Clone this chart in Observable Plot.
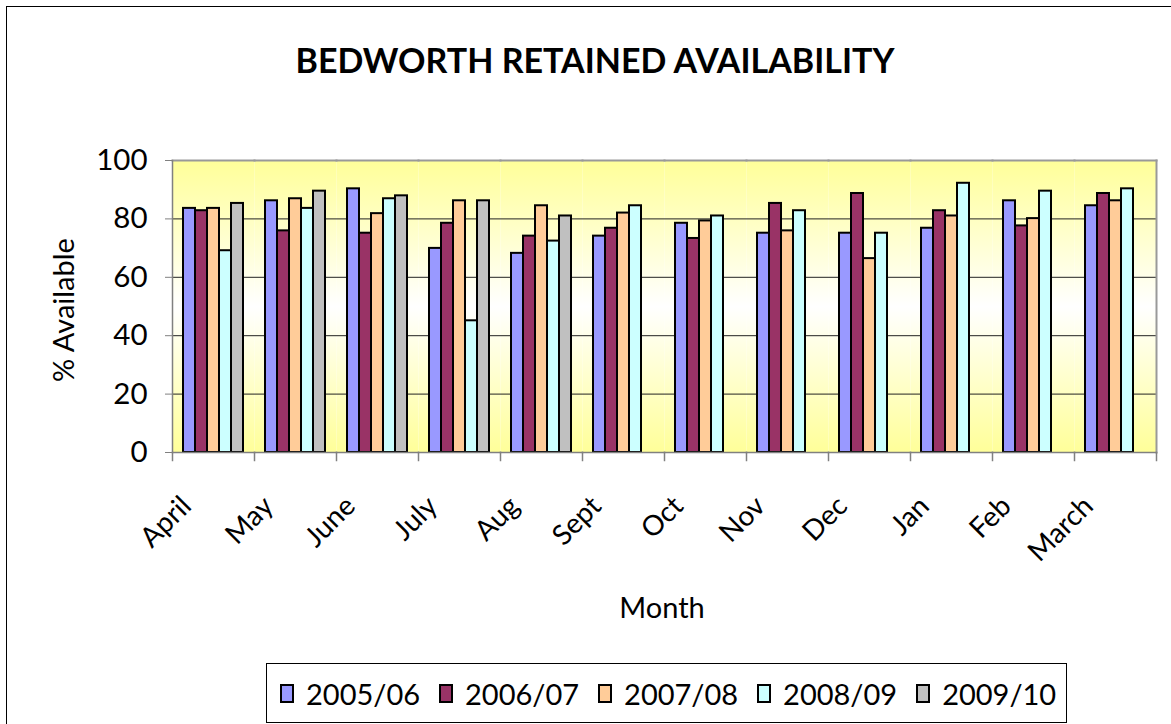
<!DOCTYPE html>
<html>
<head>
<meta charset="utf-8">
<script src="https://cdn.jsdelivr.net/npm/d3@7"></script>
<script src="https://cdn.jsdelivr.net/npm/@observablehq/plot@0.6"></script>
<style>
  html, body { margin: 0; padding: 0; background: #fff; }
  body { width: 1171px; height: 724px; position: relative; overflow: hidden; font-family: Lato, "Open Sans", sans-serif; color: #000; }
  #border { position: absolute; left: 6px; top: 6px; width: 1200px; height: 740px; border-left: 1px solid #000; border-top: 1px solid #000; }
  #title { position: absolute; left: 0; width: 1190px; top: 39px; text-align: center; font-weight: bold; font-size: 34px; }
  #ylab { position: absolute; left: 62px; top: 310px; transform: translate(-50%, -50%) rotate(-90deg); font-size: 29px; white-space: nowrap; }
  #xlab { position: absolute; left: 662px; top: 606px; transform: translate(-50%, -50%); font-size: 29px; }
  #chart { position: absolute; left: 0; top: 0; }
  #legend { position: absolute; left: 266px; top: 663px; width: 801px; height: 60px; border: 1px solid #000; box-sizing: border-box; display: flex; align-items: center; padding-left: 13px; font-size: 29px; }
  .item { display: flex; align-items: center; margin-right: 19px; }
  .sw { width: 10px; height: 15px; border: 2px solid #000; margin-right: 12px; }
</style>
</head>
<body>
<div id="border"></div>
<div id="title">BEDWORTH RETAINED AVAILABILITY</div>
<div id="chart"></div>
<div id="ylab">% Available</div>
<div id="xlab">Month</div>
<div id="legend"></div>
<script>
const months = ["April","May","June","July","Aug","Sept","Oct","Nov","Dec","Jan","Feb","March"];
const seriesNames = ["2005/06","2006/07","2007/08","2008/09","2009/10"];
const colors = ["#9999FF","#993366","#FFCC99","#CCFFFF","#C0C0C0"];
const v2005 = [83.6, 86.2, 90.3, 69.9, 68.2, 74.1, 78.5, 75.1, 75.1, 76.8, 86.2, 84.5];
const v2006 = [82.8, 75.9, 75.1, 78.5, 74.1, 76.8, 73.3, 85.3, 88.7, 82.8, 77.6, 88.7];
const v2007 = [83.6, 86.9, 81.8, 86.2, 84.5, 82.0, 79.3, 75.9, 66.4, 81.0, 80.1, 86.2];
const v2008 = [69.1, 83.6, 86.9, 45.1, 72.4, 84.5, 81.0, 82.8, 75.1, 92.2, 89.5, 90.3];
const v2009 = [85.3, 89.5, 87.9, 86.2, 81.0, null, null, null, null, null, null, null];
const yTicks = [0, 20, 40, 60, 80, 100];

const allSeries = [v2005, v2006, v2007, v2008, v2009];
const data = [];
allSeries.forEach((vals, si) => {
  vals.forEach((v, mi) => {
    if (v != null) data.push({month: months[mi], series: seriesNames[si], value: v});
  });
});

const W = 1171, H = 724, mt = 160, mb = 272, ml = 170, mr = 14;
const plotH = H - mt - mb;

const chart = Plot.plot({
  width: W, height: H,
  marginTop: mt, marginBottom: mb, marginLeft: ml, marginRight: mr,
  style: {fontFamily: "Lato, 'Open Sans', sans-serif", color: "#000", background: "transparent", overflow: "visible"},
  fx: {domain: months, padding: 0, label: null},
  x: {domain: seriesNames, paddingInner: 0, paddingOuter: 0.72, axis: null},
  y: {domain: [0, 100], label: null},
  color: {domain: seriesNames, range: colors},
  marks: [
    Plot.frame({fill: "url(#bgGrad)", stroke: null}),
    Plot.gridY({ticks: [20, 40, 60, 80], stroke: "#222", strokeOpacity: 1, strokeWidth: 1}),
    Plot.frame({anchor: "top", stroke: "#999", strokeWidth: 2}),
    Plot.frame({anchor: "right", facetAnchor: "right", stroke: "#999", strokeWidth: 2}),
    Plot.barY(data, {fx: "month", x: "series", y: "value", fill: "series", stroke: "#000", strokeWidth: 2}),
    Plot.frame({anchor: "bottom", stroke: "#808080", strokeWidth: 1.5}),
    Plot.frame({anchor: "left", facetAnchor: "left", stroke: "#808080", strokeWidth: 1.5}),
    Plot.frame({anchor: "left", stroke: "#808080", strokeWidth: 1.5, insetTop: plotH, insetBottom: -8}),
    Plot.frame({anchor: "right", facetAnchor: "right", stroke: "#808080", strokeWidth: 1.5, insetTop: plotH, insetBottom: -8}),
    Plot.axisY({ticks: yTicks, tickSize: 7, tickPadding: 18, fontSize: 29.5, stroke: "#808080", label: null, tickFormat: d => String(d)}),
    Plot.axisFx({anchor: "bottom", tickSize: 0, tickRotate: -45, tickPadding: 49, dx: -27, fontSize: 28, label: null})
  ]
});

const svg = d3.select(chart);
const defs = svg.insert("defs", ":first-child");
const grad = defs.append("linearGradient").attr("id", "bgGrad").attr("x1", 0).attr("y1", 0).attr("x2", 0).attr("y2", 1);
grad.append("stop").attr("offset", "0%").attr("stop-color", "#FFFF99");
grad.append("stop").attr("offset", "50%").attr("stop-color", "#FFFFFF");
grad.append("stop").attr("offset", "100%").attr("stop-color", "#FFFF99");

document.getElementById("chart").appendChild(chart);

const legend = d3.select("#legend");
seriesNames.forEach((s, i) => {
  const it = legend.append("div").attr("class", "item");
  it.append("div").attr("class", "sw").style("background", colors[i]);
  it.append("span").text(s);
});
</script>
</body>
</html>
